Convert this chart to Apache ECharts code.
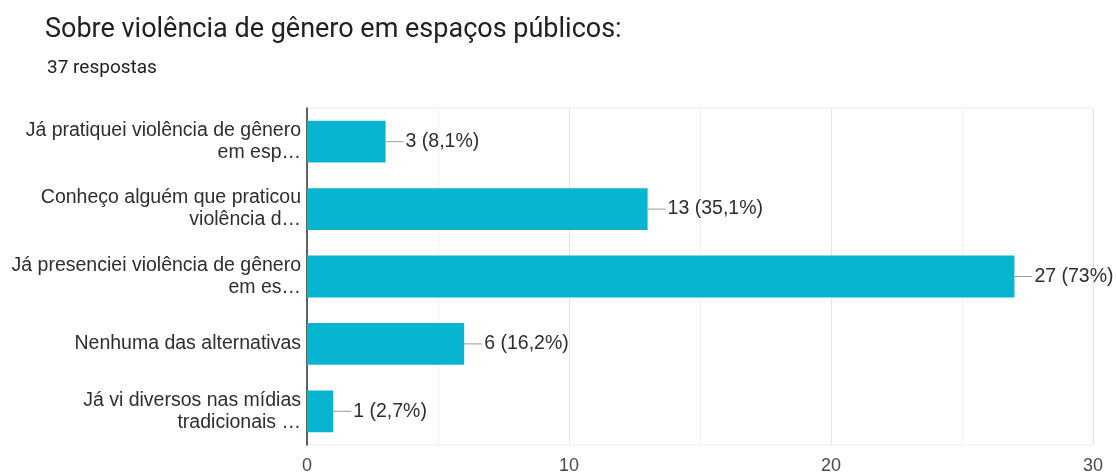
<!DOCTYPE html>
<html>
<head>
<meta charset="utf-8">
<script src="https://cdn.jsdelivr.net/npm/echarts@6/dist/echarts.min.js"></script>
<style>
  html, body { margin: 0; padding: 0; background: #fff; }
  #chart { width: 1116px; height: 475px; }
</style>
</head>
<body>
<div id="chart"></div>
<script>
// Answer options (shortened as displayed) and response counts
const categories = [
  'Já pratiquei violência de gênero\nem esp…',
  'Conheço alguém que praticou\nviolência d…',
  'Já presenciei violência de gênero\nem es…',
  'Nenhuma das alternativas',
  'Já vi diversos nas mídias\ntradicionais …'
];
const counts = [3, 13, 27, 6, 1];
const totalResponses = 37;
const xTicks = [0, 10, 20, 30];

const chartFont = '"Liberation Sans", Arial, sans-serif';

function pctText(v) {
  let s = (v / totalResponses * 100).toFixed(1);
  if (s.endsWith('.0')) s = s.slice(0, -2);
  return s.replace('.', ',');
}

const chart = echarts.init(document.getElementById('chart'));
chart.setOption({
  animation: false,
  textStyle: { fontFamily: chartFont },
  title: [
    {
      text: 'Sobre violência de gênero em espaços públicos:',
      left: 40, top: 12,
      textStyle: { fontSize: 27, fontWeight: 'normal', color: '#202124', fontFamily: 'Roboto' }
    },
    {
      text: totalResponses + ' respostas',
      left: 42, top: 54,
      textStyle: { fontSize: 19, fontWeight: 'normal', color: '#202124', fontFamily: 'Roboto' }
    }
  ],
  grid: { left: 307, right: 23, top: 108, bottom: 29, containLabel: false,
          show: true, borderColor: '#ececec', borderWidth: 1 },
  xAxis: {
    type: 'value',
    min: xTicks[0], max: xTicks[xTicks.length - 1], interval: 10,
    axisLine: { show: false },
    axisTick: { show: false },
    axisLabel: { fontSize: 18, color: '#4a4a4a', margin: 12, fontFamily: chartFont },
    splitLine: { show: true, lineStyle: { color: '#e6e6e6', width: 1 } },
    minorTick: { show: false, splitNumber: 2 },
    minorSplitLine: { show: true, lineStyle: { color: '#f3f3f3', width: 1 } }
  },
  yAxis: {
    type: 'category',
    inverse: true,
    data: categories,
    axisLine: { show: true, lineStyle: { color: '#333', width: 1.5 } },
    axisTick: { show: false },
    axisLabel: {
      fontSize: 19.5, color: '#2e2e2e', lineHeight: 22, align: 'right', margin: 6,
      fontFamily: chartFont
    }
  },
  series: [{
    type: 'bar',
    data: counts,
    barWidth: '62%',
    itemStyle: { color: '#07b5d1' },
    label: {
      show: true,
      position: 'right',
      distance: 0,
      formatter: p => '{ln|}{t|' + p.value + ' (' + pctText(p.value) + '%)}',
      rich: {
        ln: { width: 18, height: 1, backgroundColor: '#9a9a9a' },
        t: { fontSize: 19.5, color: '#2e2e2e', fontFamily: chartFont, padding: [0, 0, 0, 2] }
      }
    }
  }]
});
</script>
</body>
</html>
